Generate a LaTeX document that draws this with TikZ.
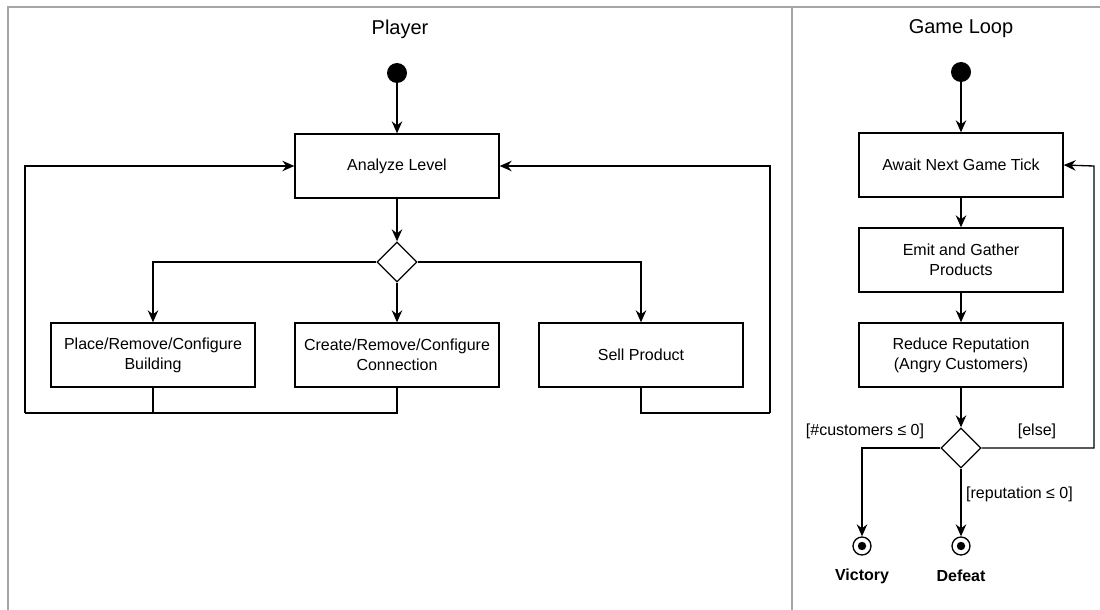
\documentclass[tikz,border=0pt]{standalone}
\usepackage{fontspec}
\setmainfont{Liberation Sans}
\usetikzlibrary{shapes.geometric,arrows.meta}
\begin{document}
\begin{tikzpicture}[x=1pt,y=-1pt,
  every node/.style={font=\fontsize{16}{20}\selectfont},
  lane/.style={draw=black!35,line width=2.2pt},
  box/.style={draw,line width=1.33pt,minimum width=204pt,minimum height=64pt,
    align=center,inner sep=2pt,fill=white},
  dec/.style={draw,diamond,line width=1.33pt,minimum width=40pt,minimum height=40pt,
    inner sep=0pt,shape aspect=1,fill=white},
  startdot/.style={circle,fill=black,minimum size=20pt,inner sep=0pt},
  enddot/.style={circle,draw,line width=1.33pt,minimum size=18pt,inner sep=0pt,
    path picture={\fill (path picture bounding box.center) circle (4.2pt);}},
  flow/.style={line width=1.33pt,-{Stealth[length=12pt,width=10.5pt,inset=4pt]}},
  wire/.style={line width=1.33pt},
  title/.style={font=\fontsize{20}{24}\selectfont},
  guard/.style={font=\fontsize{16}{20}\selectfont,inner sep=1pt},
  final/.style={font=\fontsize{16}{20}\selectfont\bfseries}
]
\useasboundingbox (0,0) rectangle (1100,610);

% swimlane frame
\draw[lane] (8,610) -- (8,7) -- (1100,7);
\draw[lane] (792,7) -- (792,610);
\node[title] (tplayer) at (400,29) {Player};
\node[title] (tloop) at (961,29) {Game Loop};

% ---- Player lane ----
\node[startdot] (s1) at (397,73) {};
\node[box] (analyze) at (397,166) {Analyze Level};
\node[dec] (d1) at (397,262) {};
\node[box] (place) at (153,355) {Place/Remove/Configure\\Building};
\node[box] (create) at (397,355) {Create/Remove/Configure\\Connection};
\node[box] (sell) at (641,355) {Sell Product};

\coordinate (lb) at (25,413);
\coordinate (lt) at (25,166);
\coordinate (rb) at (770,413);
\coordinate (rt) at (770,166);

\draw[flow] (s1) -- (analyze);
\draw[flow] (analyze) -- (d1);
\draw[flow] (d1.west) -| (place.north);
\draw[flow] (d1) -- (create);
\draw[flow] (d1.east) -| (sell.north);
\draw[wire] (place.south) |- (lb);
\draw[wire] (create.south) |- (lb);
\draw[flow] (lb) -- (lt) -- (analyze.west);
\draw[wire] (sell.south) |- (rb);
\draw[flow] (rb) -- (rt) -- (analyze.east);

% ---- Game loop lane ----
\node[startdot] (s2) at (961,72) {};
\node[box] (await) at (961,165) {Await Next Game Tick};
\node[box] (emit) at (961,260) {Emit and Gather\\Products};
\node[box] (reduce) at (961,355) {Reduce Reputation\\(Angry Customers)};
\node[dec] (d2) at (961,448) {};
\node[enddot] (victory) at (862,546) {};
\node[enddot] (defeat) at (961,546) {};
\node[final] (lvictory) at (862,576) {Victory};
\node[final] (ldefeat) at (961,576) {Defeat};

\coordinate (er) at (1094,448);
\coordinate (et) at (1094,166);

\draw[flow] (s2) -- (await);
\draw[flow] (await) -- (emit);
\draw[flow] (emit) -- (reduce);
\draw[flow] (reduce) -- (d2);
\draw[flow] (d2.west) -| (victory.north);
\draw[flow] (d2) -- (defeat);
\draw[flow] (d2.east) -- (er) -- (et) -- (await.east);

\node[guard] (gcust) at (865,431) {[\#customers ≤ 0]};
\node[guard] (gelse) at (1037,431) {[else]};
\node[guard,anchor=west] (grep) at (965,494) {[reputation ≤ 0]};
\end{tikzpicture}
\end{document}
